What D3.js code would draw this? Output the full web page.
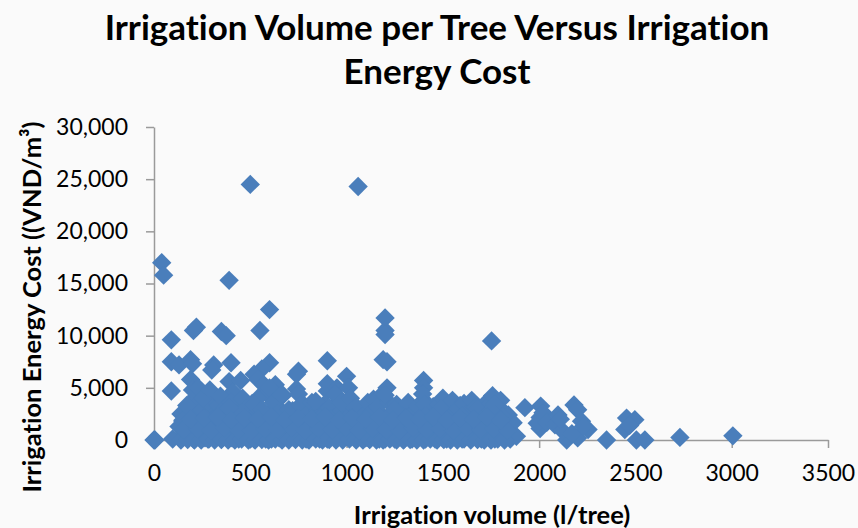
<!DOCTYPE html>
<html>
<head>
<meta charset="utf-8">
<script src="https://cdn.jsdelivr.net/npm/d3@7"></script>
<style>
  html, body { margin: 0; padding: 0; background: #fafafa; }
  svg { display: block; }
  text { font-family: Lato, "Open Sans", sans-serif; fill: #000; font-variant-ligatures: none; }
</style>
</head>
<body>
<div id="chart"></div>
<script>
var titleLines = ["Irrigation Volume per Tree Versus Irrigation", "Energy Cost"];
var xLabel = "Irrigation volume (l/tree)";
var yLabel = "Irrigation Energy Cost ((VND/m³)";
var xTicks = [0, 500, 1000, 1500, 2000, 2500, 3000, 3500];
var yTicks = [0, 5000, 10000, 15000, 20000, 25000, 30000];

// one row per stretch of the x axis
var volume = [
  500, 1060, 40, 50, 390, 600, 1200, 1200, 1200, 550, 350, 375, 220, 205, 90, 1753,
  900, 1190, 1210, 90, 130, 190, 200, 310, 300, 400, 600, 560, 520, 750, 740, 1000, 90,
  0, 5, 97, 130, 140, 150, 160, 170, 180, 185, 190, 195, 200, 205, 210, 215, 220, 225, 230, 235, 240,
  190, 150, 170, 200, 210, 180, 230, 250, 260, 270, 280, 285, 290, 295, 300, 305, 310, 315, 320, 330, 340,
  255, 265, 275, 290, 300, 320, 335, 350, 360, 370, 380, 390, 395, 400, 405, 410, 420, 430, 440, 450,
  345, 355, 365, 375, 385, 400, 415, 425, 440, 450, 460, 470, 480, 490, 500, 510, 520, 530, 540, 550,
  390, 450, 470, 500, 520, 540, 560, 570, 580, 590, 600, 610, 620, 630, 640, 650, 660, 670, 680, 690,
  540, 560, 580, 600, 610, 620, 640, 650, 660, 700, 720, 740, 750, 760, 770, 780, 790, 800, 810, 820,
  700, 720, 740, 760, 770, 790, 800, 820, 830, 840, 850, 860, 870, 880, 890, 900, 910, 920, 930, 940,
  840, 860, 880, 900, 910, 930, 950, 960, 970, 980, 990, 1000, 1010, 1020, 1030, 1040, 1050, 1060, 1070, 1080,
  900, 950, 1010, 920, 940, 970, 1000, 1020, 1050, 1070, 1090, 1100, 1110, 1120, 1130, 1140, 1150, 1160, 1170, 1180,
  1100, 1120, 1140, 1160, 1180, 1190, 1200, 1210, 1220, 1230, 1240, 1250, 1260, 1270, 1280, 1290, 1300, 1310, 1320, 1330,
  1200, 1210, 1190, 1220, 1250, 1270, 1300, 1320, 1340, 1350, 1360, 1370, 1380, 1390, 1400, 1410, 1420, 1430, 1440, 1450,
  1400, 1400, 1395, 1405, 1390, 1410, 1460, 1470, 1480, 1490, 1500, 1510, 1520, 1530, 1540, 1550, 1560, 1570, 1580, 1590,
  1500, 1510, 1490, 1530, 1560, 1580, 1600, 1610, 1620, 1630, 1640, 1650, 1660, 1670, 1680, 1690, 1700, 1710, 1720, 1730,
  1600, 1620, 1650, 1680, 1700, 1720, 1740, 1750, 1760, 1770, 1780, 1790, 1800, 1810, 1820, 1830, 1840, 1850, 1865, 1882,
  1758, 1800, 1770, 1750, 1740, 1780, 1810, 1926, 2008, 2005, 2005, 1990, 2020, 2040,
  2098, 2082, 2143, 2120, 2110, 2181, 2200, 2220, 2254, 2200, 2170, 2230, 2350,
  2454, 2497, 2445, 2470, 2505, 2549, 2731, 3006,
  // low band that fills the cloud near the axis
  140, 175, 210, 245, 280, 315, 350, 385, 420, 455, 490, 525, 560, 595, 630, 665, 700, 735, 770, 805,
  840, 875, 910, 945, 980, 1015, 1050, 1085, 1120, 1155, 1190, 1225, 1260, 1295, 1330, 1365, 1400, 1435, 1470, 1505,
  1540, 1575, 1610, 1645, 1680, 1715, 1750, 1785, 1820, 155, 225, 295, 365, 435, 505, 575, 645, 715, 785, 855,
  925, 995, 1065, 1135, 1205, 1275, 1345, 1415, 1485, 1555, 1625, 1695, 1765, 1835, 190, 260, 330, 400, 470, 540,
  610, 680, 750, 820, 890, 960, 1030, 1100, 1170, 1240, 1310, 1380, 1450, 1520, 1590, 1660, 1730, 1800
];
var cost = [
  24500, 24300, 17000, 15800, 15300, 12500, 11700, 10500, 10100, 10500, 10400, 10000, 10800, 10500, 9600, 9500,
  7600, 7700, 7500, 7500, 7200, 7700, 7300, 7200, 6700, 7400, 7400, 6800, 6300, 6600, 6300, 6100, 4700,
  0, 0, 100, 1300, 2500, 1800, 700, 2700, 300, 1500, 3500, 2200, 900, 100, 3000, 1700, 4200, 500, 2600, 1200, 3500,
  5800, 1900, 3300, 4800, 200, 1000, 5000, 2900, 600, 3900, 1500, 100, 2400, 4500, 3300, 800, 1900, 200, 3700, 2800, 1200,
  4000, 200, 1700, 4800, 400, 2200, 3300, 100, 1500, 2900, 700, 5600, 3900, 2100, 200, 4600, 1200, 3100, 400, 2400,
  4200, 700, 3000, 1800, 300, 3600, 1000, 2500, 100, 5700, 4000, 1500, 3000, 500, 2000, 3500, 100, 1100, 2700, 4200,
  3100, 800, 1900, 100, 3400, 5800, 1400, 5300, 400, 2400, 4700, 100, 3800, 5300, 1700, 3000, 500, 4300, 2200, 1100,
  600, 2900, 100, 5000, 1500, 3600, 2500, 200, 4300, 1200, 2800, 4900, 4400, 500, 3500, 1800, 100, 3000, 1100, 2300,
  2900, 300, 1700, 3300, 800, 2400, 100, 3600, 1400, 500, 2800, 100, 1900, 3300, 900, 4700, 200, 2500, 1300, 3400,
  3700, 800, 2400, 100, 3100, 1600, 4200, 600, 2700, 100, 3500, 1200, 2200, 300, 3300, 1500, 100, 2800, 900, 1900,
  5400, 5000, 5000, 2000, 4400, 3600, 300, 4000, 3200, 400, 2400, 1000, 3600, 100, 1800, 3900, 800, 2800, 100, 4300,
  200, 2500, 1200, 3200, 2000, 4400, 100, 5000, 3600, 1000, 2600, 100, 3400, 1700, 600, 2800, 100, 3300, 1300, 2300,
  4300, 1500, 600, 200, 2900, 700, 1800, 3600, 100, 2700, 1200, 3200, 400, 2300, 3800, 100, 1600, 2900, 600, 3200,
  5700, 5000, 4400, 3400, 1100, 2300, 100, 1900, 3400, 800, 4000, 2500, 100, 3300, 1300, 3800, 500, 2700, 1700, 3300,
  200, 1100, 3000, 2100, 700, 3000, 100, 3500, 1400, 2600, 400, 3800, 1900, 3100, 100, 1200, 2700, 500, 3500, 1600,
  2300, 600, 1300, 3000, 100, 2300, 800, 3500, 1600, 100, 2600, 1100, 3000, 400, 1900, 900, 2400, 100, 1650, 350,
  4250, 3800, 3400, 2800, 1900, 1200, 2200, 3100, 3250, 2150, 1100, 1600, 2600, 1700,
  2400, 1450, 0, 900, 2000, 3350, 2900, 1800, 1000, 200, 600, 1300, 0,
  2100, 1950, 1000, 1400, 0, 0, 250, 400,
  0, 50, 0, 0, 100, 0, 50, 0, 0, 100, 0, 0, 50, 0, 100, 0, 0, 50, 0, 0,
  100, 0, 50, 0, 0, 100, 0, 0, 50, 0, 0, 100, 0, 0, 50, 0, 0, 100, 0, 50,
  0, 0, 100, 0, 50, 0, 0, 100, 0, 1000, 1100, 900, 1200, 1000, 900, 1100, 1000, 1200, 900, 1100,
  1000, 1200, 900, 1100, 1000, 900, 1200, 1000, 1100, 900, 1200, 1000, 1100, 900, 2000, 2100, 2200, 1900, 2100, 2000,
  2200, 1900, 2100, 2000, 2200, 1900, 2100, 2000, 2200, 1900, 2100, 2000, 2200, 1900, 2100, 2000, 2200, 1900
];

(function () {
  var W = 858, H = 528;
  var plot = { left: 154, right: 828, top: 127, bottom: 440 };

  var svg = d3.select("#chart").append("svg").attr("width", W).attr("height", H);

  var x = d3.scaleLinear().domain([0, 3500]).range([plot.left, plot.right]);
  var y = d3.scaleLinear().domain([0, 30000]).range([plot.bottom, plot.top]);

  // ── Title ───────────────────────────────────────────────────────────────
  svg.selectAll(".title").data(titleLines).enter().append("text")
    .attr("class", "title")
    .attr("x", 437)
    .attr("y", function (d, i) { return 40 + i * 44; })
    .attr("text-anchor", "middle")
    .style("font-size", "35px")
    .style("font-weight", 700)
    .text(function (d) { return d; });

  // ── Axes ────────────────────────────────────────────────────────────────
  var gX = svg.append("g").attr("transform", "translate(0," + plot.bottom + ")")
    .call(d3.axisBottom(x).tickValues(xTicks).tickFormat(d3.format("d")).tickSize(8).tickSizeOuter(0).tickPadding(17));
  var gY = svg.append("g").attr("transform", "translate(" + plot.left + ",0)")
    .call(d3.axisLeft(y).tickValues(yTicks).tickFormat(d3.format(",")).tickSize(8).tickSizeOuter(0).tickPadding(18));

  [gX, gY].forEach(function (a) {
    a.selectAll("line,path").attr("stroke", "#9a9a9a").attr("stroke-width", 1.5);
    a.selectAll("text").style("font-size", "23px").attr("fill", "#000");
  });

  svg.append("text").attr("x", 492).attr("y", 524)
    .attr("text-anchor", "middle")
    .style("font-size", "25.5px").style("font-weight", 700)
    .text(xLabel);
  svg.append("text")
    .attr("transform", "translate(41,307) rotate(-90)")
    .attr("text-anchor", "middle")
    .style("font-size", "25.5px").style("font-weight", 700)
    .text(yLabel);

  // ── Points ──────────────────────────────────────────────────────────────
  var diamond = d3.symbol().type(d3.symbolSquare).size(188);
  svg.append("g").selectAll("path").data(volume).enter().append("path")
    .attr("d", diamond)
    .attr("fill", "#4a7ebb")
    .attr("transform", function (d, i) {
      return "translate(" + x(d) + "," + y(cost[i]) + ") rotate(45)";
    });
})();
</script>
</body>
</html>
